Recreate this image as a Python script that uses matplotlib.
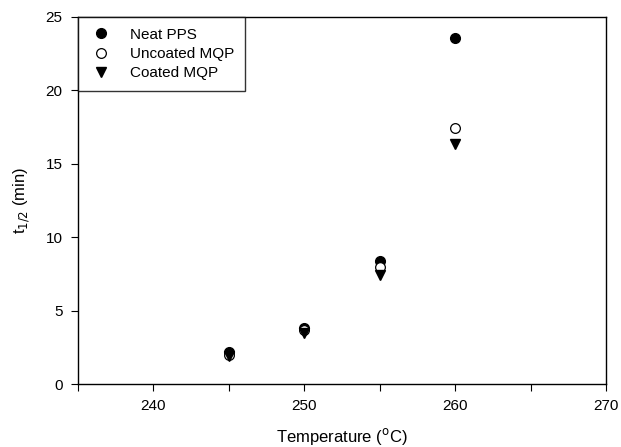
import matplotlib.pyplot as plt
from matplotlib.ticker import MultipleLocator

temps = [245, 250, 255, 260]
neat_pps = [2.15, 3.8, 8.4, 23.55]
uncoated_mqp = [2.0, 3.7, 8.0, 17.45]
coated_mqp = [1.9, 3.5, 7.4, 16.35]

plt.rcParams['font.family'] = ['Liberation Sans', 'DejaVu Sans']

fig = plt.figure(figsize=(6.21, 4.47), dpi=100)
ax = fig.add_axes([78 / 621, 1 - 384 / 447, 528 / 621, 367 / 447])

ax.plot(temps, neat_pps, 'o', color='black', ms=7, label='Neat PPS')
ax.plot(temps, uncoated_mqp, 'o', mfc='white', mec='black', mew=0.9, ms=7, label='Uncoated MQP')
ax.plot(temps, coated_mqp, 'v', color='black', ms=7, label='Coated MQP')

ax.set_xlim(235, 270)
ax.set_ylim(0, 25)
ax.xaxis.set_major_locator(MultipleLocator(10))
ax.xaxis.set_minor_locator(MultipleLocator(5))
ax.yaxis.set_major_locator(MultipleLocator(5))
ax.tick_params(which='both', direction='out', labelsize=11, width=0.8)
ax.tick_params(which='major', length=5, pad=6)
ax.tick_params(which='minor', length=5)
for s in ax.spines.values():
    s.set_linewidth(1.0)

ax.set_xlabel('Temperature ($^{\\rm o}$C)', fontsize=12, labelpad=9)
ax.set_ylabel('t$_{1/2}$ (min)', fontsize=12, labelpad=10)

leg = ax.legend(loc='upper left', fontsize=11, frameon=True, fancybox=False,
                edgecolor='black', borderaxespad=0, handletextpad=1.1,
                borderpad=0.7, labelspacing=0.35, handlelength=1.6)
leg.get_frame().set_linewidth(1.0)

fig.savefig('out.png', dpi=100)
